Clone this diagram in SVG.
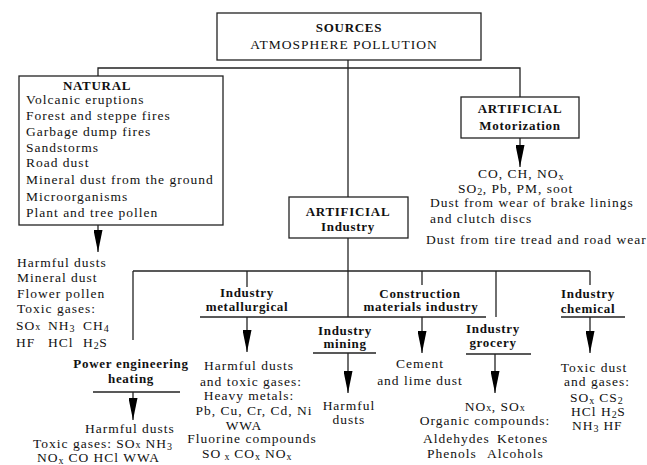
<svg xmlns="http://www.w3.org/2000/svg" width="647" height="465" viewBox="0 0 647 465">
<defs>
<style>
text{font-size:13.5px;letter-spacing:1px;fill:#111}
.b{font-weight:bold;font-size:13px;letter-spacing:0.7px}
.m{text-anchor:middle}
.s{font-size:10px;letter-spacing:0.5px}
.box{fill:#fff;stroke:#222;stroke-width:1.3}
.ln{fill:none;stroke:#222;stroke-width:1.3}
</style>
<marker id="ah" viewBox="0 0 22 9" refX="22" refY="4.5" markerWidth="22" markerHeight="9" markerUnits="userSpaceOnUse" orient="auto"><path d="M0,0 L22,4.5 L0,9 z" fill="#000"/></marker>
</defs>
<rect width="647" height="465" fill="#fff"/>

<g id="connectors" class="ln">
<path class="ln" d="M348,60 V197"/>
<path class="ln" d="M98,76 V68 H520 V97"/>
<path class="ln" d="M98,225 V252" marker-end="url(#ah)"/>
<path class="ln" d="M520,138 V167" marker-end="url(#ah)"/>
<path class="ln" d="M348,238 V271"/>
<path class="ln" d="M133,271 H590"/>
<path class="ln" d="M133,271 V340"/>
<path class="ln" d="M247,271 V287"/>
<path class="ln" d="M348,271 V317"/>
<path class="ln" d="M422,271 V285"/>
<path class="ln" d="M496,271 V317"/>
<path class="ln" d="M590,271 V285"/>
<path class="ln" d="M93,392 H180"/>
<path class="ln" d="M200,317 H486"/>
<path class="ln" d="M313,353 H376"/>
<path class="ln" d="M466,354 H531"/>
<path class="ln" d="M561,317 H625"/>
<path class="ln" d="M133,392 V420" marker-end="url(#ah)"/>
<path class="ln" d="M247,317 V352" marker-end="url(#ah)"/>
<path class="ln" d="M348,353 V393" marker-end="url(#ah)"/>
<path class="ln" d="M422,317 V353" marker-end="url(#ah)"/>
<path class="ln" d="M495,354 V393" marker-end="url(#ah)"/>
<path class="ln" d="M590,317 V353" marker-end="url(#ah)"/>
</g>

<g font-family="Liberation Serif">
<g id="sources">
<rect class="box" x="217" y="13" width="264" height="47"/>
<text class="b m" x="349" y="32">SOURCES</text>
<text class="m" x="344" y="49">ATMOSPHERE POLLUTION</text>
</g>

<g id="natural">
<rect class="box" x="19" y="76" width="204" height="149"/>
<text class="b m" x="97" y="90">NATURAL</text>
<text x="26" y="104">Volcanic eruptions</text>
<text x="26" y="120">Forest and steppe fires</text>
<text x="26" y="136">Garbage dump fires</text>
<text x="26" y="152">Sandstorms</text>
<text x="26" y="167">Road dust</text>
<text x="26" y="184">Mineral dust from the ground</text>
<text x="26" y="201">Microorganisms</text>
<text x="26" y="217">Plant and tree pollen</text>
</g>

<g id="natural-output">
<text x="17" y="267">Harmful dusts</text>
<text x="17" y="282">Mineral dust</text>
<text x="17" y="298">Flower pollen</text>
<text x="17" y="313">Toxic gases:</text>
<text x="16" y="330">SO<tspan class="s">x</tspan></text>
<text x="48" y="330">NH<tspan class="s" dy="1.5">3</tspan></text>
<text x="83" y="330">CH<tspan class="s" dy="1.5">4</tspan></text>
<text x="16" y="347">HF</text>
<text x="48" y="347">HCl</text>
<text x="83" y="347">H<tspan class="s" dy="1.5">2</tspan><tspan dy="-1.5">S</tspan></text>
</g>

<g id="motorization">
<rect class="box" x="461" y="97" width="118" height="41"/>
<text class="b m" x="520" y="113">ARTIFICIAL</text>
<text class="b m" x="520" y="130">Motorization</text>
</g>

<g id="motorization-output">
<text x="478" y="178">CO, CH, NO<tspan class="s" dy="1.5">x</tspan></text>
<text x="458" y="193">SO<tspan class="s" dy="1.5">2</tspan><tspan dy="-1.5">, Pb, PM, soot</tspan></text>
<text x="430" y="207">Dust from wear of brake linings</text>
<text x="430" y="223">and clutch discs</text>
<text x="426" y="244">Dust from tire tread and road wear</text>
</g>

<g id="industry">
<rect class="box" x="289" y="197" width="119" height="41"/>
<text class="b m" x="348" y="216">ARTIFICIAL</text>
<text class="b m" x="348" y="231">Industry</text>
</g>

<g id="power">
<text class="b m" x="131" y="368">Power engineering</text>
<text class="b m" x="131" y="383">heating</text>
<text x="85" y="433">Harmful dusts</text>
<text x="33" y="448">Toxic gases: SO<tspan class="s">x</tspan><tspan>  NH</tspan><tspan class="s" dy="1.5">3</tspan></text>
<text x="37" y="462">NO<tspan class="s" dy="1.5">x</tspan><tspan dy="-1.5">  CO  HCl  WWA</tspan></text>
</g>

<g id="metallurgical">
<text class="b m" x="247" y="297">Industry</text>
<text class="b m" x="247" y="311">metallurgical</text>
<text class="m" x="249" y="370">Harmful dusts</text>
<text class="m" x="251" y="386">and toxic gases:</text>
<text class="m" x="249" y="400">Heavy metals:</text>
<text class="m" x="254" y="415">Pb, Cu, Cr, Cd, Ni</text>
<text class="m" x="244" y="430">WWA</text>
<text class="m" x="252" y="443">Fluorine compounds</text>
<text class="m" x="247" y="458">SO<tspan class="s" dy="1.5"> x</tspan><tspan dy="-1.5"> CO</tspan><tspan class="s" dy="1.5">x</tspan><tspan dy="-1.5"> NO</tspan><tspan class="s" dy="1.5">x</tspan></text>
</g>

<g id="mining">
<text class="b m" x="345" y="335">Industry</text>
<text class="b m" x="345" y="348">mining</text>
<text class="m" x="349" y="410">Harmful</text>
<text class="m" x="349" y="424">dusts</text>
</g>

<g id="construction">
<text class="b m" x="420" y="298">Construction</text>
<text class="b m" x="421" y="311">materials industry</text>
<text class="m" x="420" y="368">Cement</text>
<text class="m" x="420" y="385">and lime dust</text>
</g>

<g id="grocery">
<text class="b m" x="493" y="333">Industry</text>
<text class="b m" x="493" y="347">grocery</text>
<text class="m" x="495" y="411">NO<tspan class="s">x</tspan>, SO<tspan class="s">x</tspan></text>
<text class="m" x="485" y="425">Organic compounds:</text>
<text x="423" y="443">Aldehydes</text>
<text x="497" y="443">Ketones</text>
<text x="427" y="458">Phenols</text>
<text x="487" y="458">Alcohols</text>
</g>

<g id="chemical">
<text class="b m" x="588" y="298">Industry</text>
<text class="b m" x="588" y="313">chemical</text>
<text class="m" x="594" y="372">Toxic dust</text>
<text class="m" x="597" y="386">and gases:</text>
<text x="570" y="402">SO<tspan class="s" dy="1.5">x</tspan><tspan dy="-1.5"> CS</tspan><tspan class="s" dy="1.5">2</tspan></text>
<text x="571" y="416">HCl  H<tspan class="s" dy="1.5">2</tspan><tspan dy="-1.5">S</tspan></text>
<text x="572" y="430">NH<tspan class="s" dy="1.5">3</tspan><tspan dy="-1.5"> HF</tspan></text>
</g>
</g>
</svg>
